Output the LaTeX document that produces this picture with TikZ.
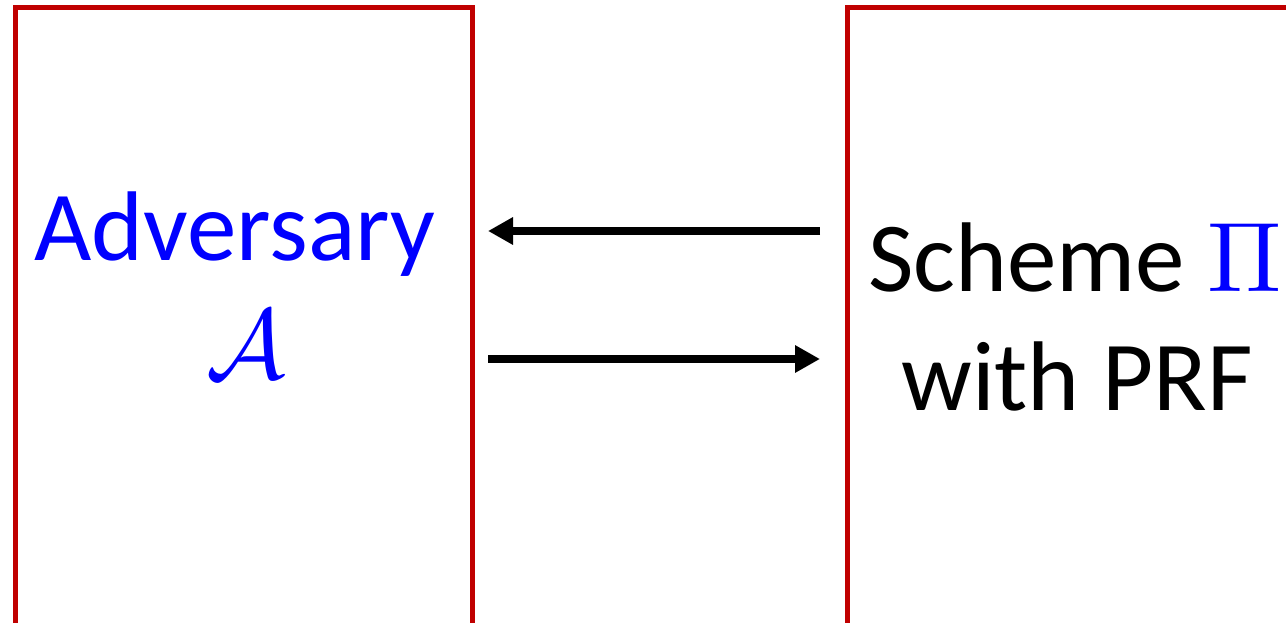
\documentclass[tikz,border=0pt]{standalone}
\usepackage{fontspec}
\setmainfont{Carlito}
\usetikzlibrary{arrows.meta}
% let the math symbol and roman fonts scale to any size
\DeclareFontShape{OMS}{cmsy}{m}{n}{<->cmsy10}{}
\DeclareFontShape{OT1}{cmr}{m}{n}{<->cmr10}{}
\DeclareFontShape{OML}{cmm}{m}{it}{<->cmmi10}{}
\definecolor{boxred}{HTML}{C00000}
\begin{document}
\begin{tikzpicture}[x=1pt,y=1pt,
  party/.style={draw=boxred,line width=5pt,inner sep=0pt,outer sep=0pt,anchor=north west},
  label/.style={anchor=base,inner sep=0pt,font=\fontsize{99}{120}\selectfont},
  msg/.style={line width=8pt,-{Triangle[length=25pt,width=26pt]}}]
\useasboundingbox (0,0) rectangle (1286,-623);
\clip (0,0) rectangle (1286,-623);
% the two parties, running off the lower and right edges
\node[party,minimum width=456.5pt,minimum height=660pt] (adv) at (15.5,-8) {};
\node[party,minimum width=480pt,minimum height=660pt] (sch) at (847,-8) {};
% labels
\node[label,text=blue] (advname) at (235,-260) {Adversary};
\node[label,text=blue] (advsym) at (246,-378) {$\mathcal{A}$};
\node[label] (schname) at (1075,-291) {Scheme \textcolor{blue}{$\Pi$}};
\node[label] (schprf) at (1077,-410) {with PRF};
% message endpoints
\coordinate (advin) at (488,-231);
\coordinate (schout) at (820,-231);
\coordinate (advout) at (488,-359);
\coordinate (schin) at (820,-359);
\draw[msg] (schout) -- (advin);
\draw[msg] (advout) -- (schin);
\end{tikzpicture}
\end{document}
